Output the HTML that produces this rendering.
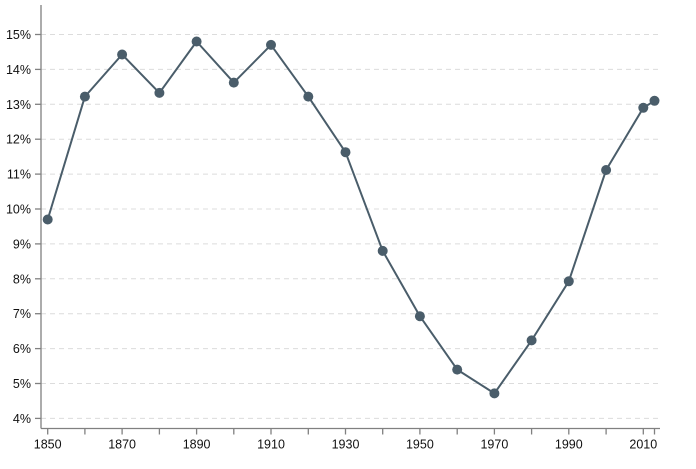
<!DOCTYPE html>
<html><head><meta charset="utf-8"><style>
html,body{margin:0;padding:0;background:#fff;}
svg{display:block;}
text{font-family:"Liberation Sans",sans-serif;font-size:12.5px;fill:#111;}
</style></head><body>
<svg width="696" height="469" viewBox="0 0 696 469" xmlns="http://www.w3.org/2000/svg">
<g stroke="#dcdcdc" stroke-width="1" stroke-dasharray="5,4">
<line x1="41" x2="660" y1="34.5" y2="34.5"/>
<line x1="41" x2="660" y1="69.4" y2="69.4"/>
<line x1="41" x2="660" y1="104.3" y2="104.3"/>
<line x1="41" x2="660" y1="139.2" y2="139.2"/>
<line x1="41" x2="660" y1="174.1" y2="174.1"/>
<line x1="41" x2="660" y1="209" y2="209"/>
<line x1="41" x2="660" y1="243.9" y2="243.9"/>
<line x1="41" x2="660" y1="278.8" y2="278.8"/>
<line x1="41" x2="660" y1="313.7" y2="313.7"/>
<line x1="41" x2="660" y1="348.6" y2="348.6"/>
<line x1="41" x2="660" y1="383.5" y2="383.5"/>
<line x1="41" x2="660" y1="418.4" y2="418.4"/>
</g>
<g stroke="#808080" stroke-width="1.3" fill="none">
<line x1="41" x2="41" y1="5" y2="428.5"/>
<line x1="41" x2="660" y1="428.5" y2="428.5"/>
<line x1="35" x2="41" y1="34.5" y2="34.5"/>
<line x1="35" x2="41" y1="69.4" y2="69.4"/>
<line x1="35" x2="41" y1="104.3" y2="104.3"/>
<line x1="35" x2="41" y1="139.2" y2="139.2"/>
<line x1="35" x2="41" y1="174.1" y2="174.1"/>
<line x1="35" x2="41" y1="209" y2="209"/>
<line x1="35" x2="41" y1="243.9" y2="243.9"/>
<line x1="35" x2="41" y1="278.8" y2="278.8"/>
<line x1="35" x2="41" y1="313.7" y2="313.7"/>
<line x1="35" x2="41" y1="348.6" y2="348.6"/>
<line x1="35" x2="41" y1="383.5" y2="383.5"/>
<line x1="35" x2="41" y1="418.4" y2="418.4"/>
<line x1="47.7" x2="47.7" y1="428.5" y2="434.5"/>
<line x1="84.9" x2="84.9" y1="428.5" y2="434.5"/>
<line x1="122.1" x2="122.1" y1="428.5" y2="434.5"/>
<line x1="159.4" x2="159.4" y1="428.5" y2="434.5"/>
<line x1="196.6" x2="196.6" y1="428.5" y2="434.5"/>
<line x1="233.8" x2="233.8" y1="428.5" y2="434.5"/>
<line x1="271" x2="271" y1="428.5" y2="434.5"/>
<line x1="308.3" x2="308.3" y1="428.5" y2="434.5"/>
<line x1="345.5" x2="345.5" y1="428.5" y2="434.5"/>
<line x1="382.7" x2="382.7" y1="428.5" y2="434.5"/>
<line x1="419.9" x2="419.9" y1="428.5" y2="434.5"/>
<line x1="457.2" x2="457.2" y1="428.5" y2="434.5"/>
<line x1="494.4" x2="494.4" y1="428.5" y2="434.5"/>
<line x1="531.6" x2="531.6" y1="428.5" y2="434.5"/>
<line x1="568.8" x2="568.8" y1="428.5" y2="434.5"/>
<line x1="606.1" x2="606.1" y1="428.5" y2="434.5"/>
<line x1="643.3" x2="643.3" y1="428.5" y2="434.5"/>
<line x1="654.5" x2="654.5" y1="428.5" y2="434.5"/>
</g>
<g text-anchor="end">
<text x="31" y="39">15%</text>
<text x="31" y="73.9">14%</text>
<text x="31" y="108.8">13%</text>
<text x="31" y="143.7">12%</text>
<text x="31" y="178.6">11%</text>
<text x="31" y="213.5">10%</text>
<text x="31" y="248.4">9%</text>
<text x="31" y="283.3">8%</text>
<text x="31" y="318.2">7%</text>
<text x="31" y="353.1">6%</text>
<text x="31" y="388">5%</text>
<text x="31" y="422.9">4%</text>
</g>
<g text-anchor="middle">
<text x="47.7" y="448.5">1850</text>
<text x="122.1" y="448.5">1870</text>
<text x="196.6" y="448.5">1890</text>
<text x="271" y="448.5">1910</text>
<text x="345.5" y="448.5">1930</text>
<text x="419.9" y="448.5">1950</text>
<text x="494.4" y="448.5">1970</text>
<text x="568.8" y="448.5">1990</text>
<text x="643.3" y="448.5">2010</text>
</g>
<polyline fill="none" stroke="#4a5d6a" stroke-width="2" stroke-linejoin="round" points="47.7,219.5 84.9,96.6 122.1,54.5 159.4,92.9 196.6,41.5 233.8,82.6 271,44.9 308.3,96.6 345.5,152.2 382.7,250.9 419.9,316.2 457.2,369.6 494.4,393.4 531.6,340.4 568.8,281.3 606.1,170 643.3,107.8 654.5,100.8"/>
<g fill="#4a5d6a">
<circle cx="47.7" cy="219.5" r="5"/>
<circle cx="84.9" cy="96.6" r="5"/>
<circle cx="122.1" cy="54.5" r="5"/>
<circle cx="159.4" cy="92.9" r="5"/>
<circle cx="196.6" cy="41.5" r="5"/>
<circle cx="233.8" cy="82.6" r="5"/>
<circle cx="271" cy="44.9" r="5"/>
<circle cx="308.3" cy="96.6" r="5"/>
<circle cx="345.5" cy="152.2" r="5"/>
<circle cx="382.7" cy="250.9" r="5"/>
<circle cx="419.9" cy="316.2" r="5"/>
<circle cx="457.2" cy="369.6" r="5"/>
<circle cx="494.4" cy="393.4" r="5"/>
<circle cx="531.6" cy="340.4" r="5"/>
<circle cx="568.8" cy="281.3" r="5"/>
<circle cx="606.1" cy="170" r="5"/>
<circle cx="643.3" cy="107.8" r="5"/>
<circle cx="654.5" cy="100.8" r="5"/>
</g>
</svg>
</body></html>
